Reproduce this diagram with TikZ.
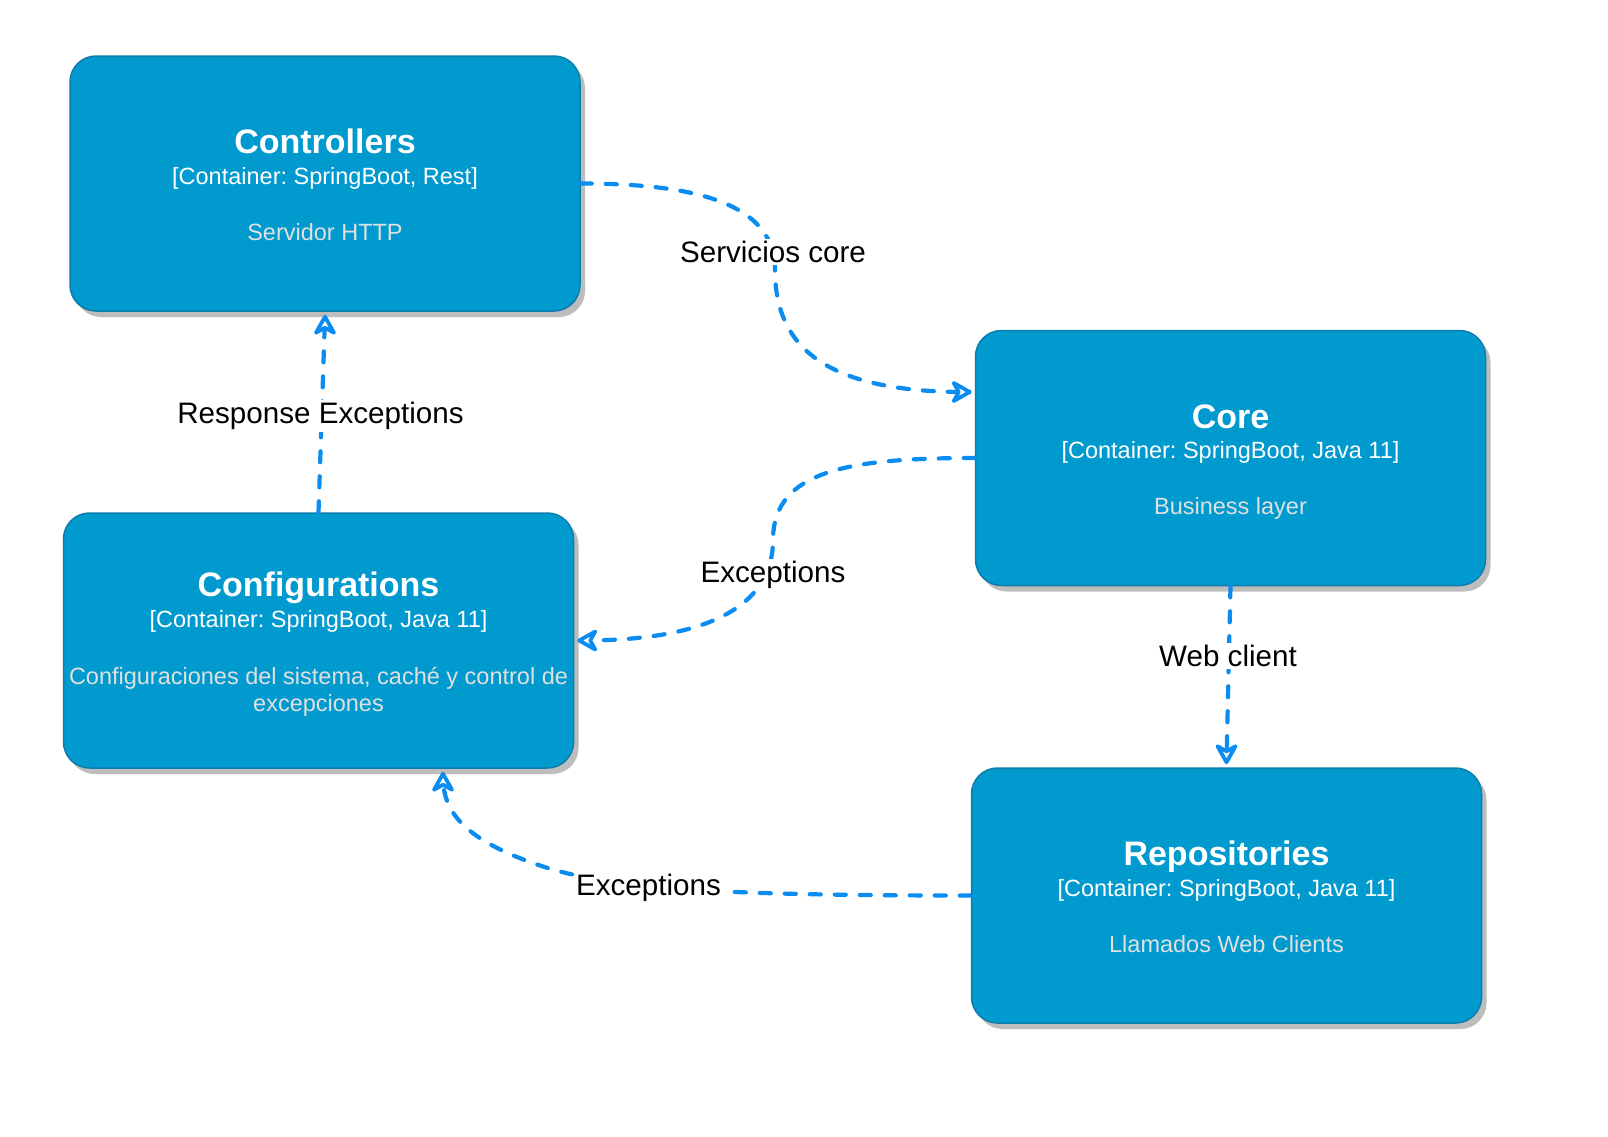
\documentclass[tikz,border=0pt]{standalone}
\usepackage{fontspec}
\setmainfont{Liberation Sans}
\frenchspacing
\usetikzlibrary{arrows.meta,calc,shadows}
\definecolor{boxfill}{HTML}{009ACF}
\definecolor{boxline}{HTML}{0E7DAD}
\definecolor{desccol}{HTML}{E0E0E0}
\definecolor{edgeblue}{HTML}{0A8CF0}
\definecolor{shadowgray}{HTML}{BDBDBD}
\begin{document}
\begin{tikzpicture}[x=1pt,y=-1pt,
  container/.style={draw=boxline, line width=1.5pt, fill=boxfill, rounded corners=26pt,
    minimum width=510pt, minimum height=255pt, inner sep=0pt,
    drop shadow={shadow xshift=5pt, shadow yshift=-6pt, fill=shadowgray, opacity=1}},
  ttl/.style={text=white, font=\fontsize{34}{40}\selectfont\bfseries, anchor=base, inner sep=0pt},
  subt/.style={text=white, font=\fontsize{23.5}{28}\selectfont, anchor=base, inner sep=0pt},
  dsc/.style={text=desccol, font=\fontsize{23.5}{27.5}\selectfont, anchor=base, inner sep=0pt, align=center},
  rel/.style={draw=edgeblue, line width=4.2pt, dash pattern=on 11pt off 14pt, line cap=round, shorten >=4pt},
  tipline/.style={draw=edgeblue, line width=3.8pt, line cap=round, line join=round, fill=white},
  lbl/.style={fill=white, inner sep=2pt, text=black, font=\fontsize{29.6}{34}\selectfont, anchor=base}
]
\path[use as bounding box, fill=white] (0,0) rectangle (1608,1136);

% containers
\node[container] (ctrl) at (325,183.5) {};
\node[container] (core) at (1230.5,458) {};
\node[container] (conf) at (318.5,640.5) {};
\node[container] (repo) at (1226.5,895.5) {};

% texts
\node[ttl]  (ctrlT) at ($(ctrl.center)+(0,-30)$) {Controllers};
\node[subt] (ctrlS) at ($(ctrl.center)+(0,0.5)$) {[Container: SpringBoot, Rest]};
\node[dsc]  (ctrlD) at ($(ctrl.center)+(0,56.5)$) {Servidor HTTP};

\node[ttl]  (coreT) at ($(core.center)+(0,-30)$) {Core};
\node[subt] (coreS) at ($(core.center)+(0,0.5)$) {[Container: SpringBoot, Java 11]};
\node[dsc]  (coreD) at ($(core.center)+(0,56.5)$) {Business layer};

\node[ttl]  (confT) at ($(conf.center)+(0,-44)$) {Configurations};
\node[subt] (confS) at ($(conf.center)+(0,-13.5)$) {[Container: SpringBoot, Java 11]};
\node[dsc]  (confD1) at ($(conf.center)+(0,43.5)$) {Configuraciones del sistema, caché y control de};
\node[dsc]  (confD2) at ($(conf.center)+(0,71)$) {excepciones};

\node[ttl]  (repoT) at ($(repo.center)+(0,-30)$) {Repositories};
\node[subt] (repoS) at ($(repo.center)+(0,0.5)$) {[Container: SpringBoot, Java 11]};
\node[dsc]  (repoD) at ($(repo.center)+(0,56.5)$) {Llamados Web Clients};

% relations
\coordinate (e1) at ($(core.west)+(-5,-66)$);
\coordinate (e2) at ($(conf.east)+(5,0)$);
\coordinate (e3) at ($(ctrl.south)+(0,5)$);
\coordinate (e4) at ($(repo.north)+(0,-5)$);
\coordinate (e5) at ($(conf.south)+(124.5,5)$);
\draw[rel] (ctrl.east) .. controls (700,183.5) and (775,205) .. (775,270)
  .. controls (775,350) and (830,392) .. (e1);
\draw[rel] (core.west) .. controls (850,458) and (773,470) .. (773,540)
  .. controls (773,610) and (700,640.5) .. (e2);
\draw[rel] (conf.north) -- (e3);
\draw[rel] (core.south) -- (e4);
\draw[rel] (repo.west) .. controls (700,895.5) and (600,888) .. (530,862)
  .. controls (470,840) and (443,815) .. (e5);

% arrow heads (open, notched), tip at e*, pointing along the final direction
\draw[tipline] (e1) -- ++(-16,-9) -- ++(5,9) -- ++(-5,9) -- cycle;
\draw[tipline] (e2) -- ++(16,-9) -- ++(-5,9) -- ++(5,9) -- cycle;
\draw[tipline] (e3) -- ++(-9,16) -- ++(9,-5) -- ++(9,5) -- cycle;
\draw[tipline] (e4) -- ++(-9,-16) -- ++(9,5) -- ++(9,-5) -- cycle;
\draw[tipline] (e5) -- ++(-9,16) -- ++(9,-5) -- ++(9,5) -- cycle;

% relation labels
\node[lbl] (l1) at (773,262.5) {Servicios core};
\node[lbl] (l2) at (773,582.5) {Exceptions};
\node[lbl] (l3) at (320.5,423.5) {Response Exceptions};
\node[lbl] (l4) at (1228,666.5) {Web client};
\node[lbl] (l5) at (648.5,895.5) {Exceptions};
\end{tikzpicture}
\end{document}
